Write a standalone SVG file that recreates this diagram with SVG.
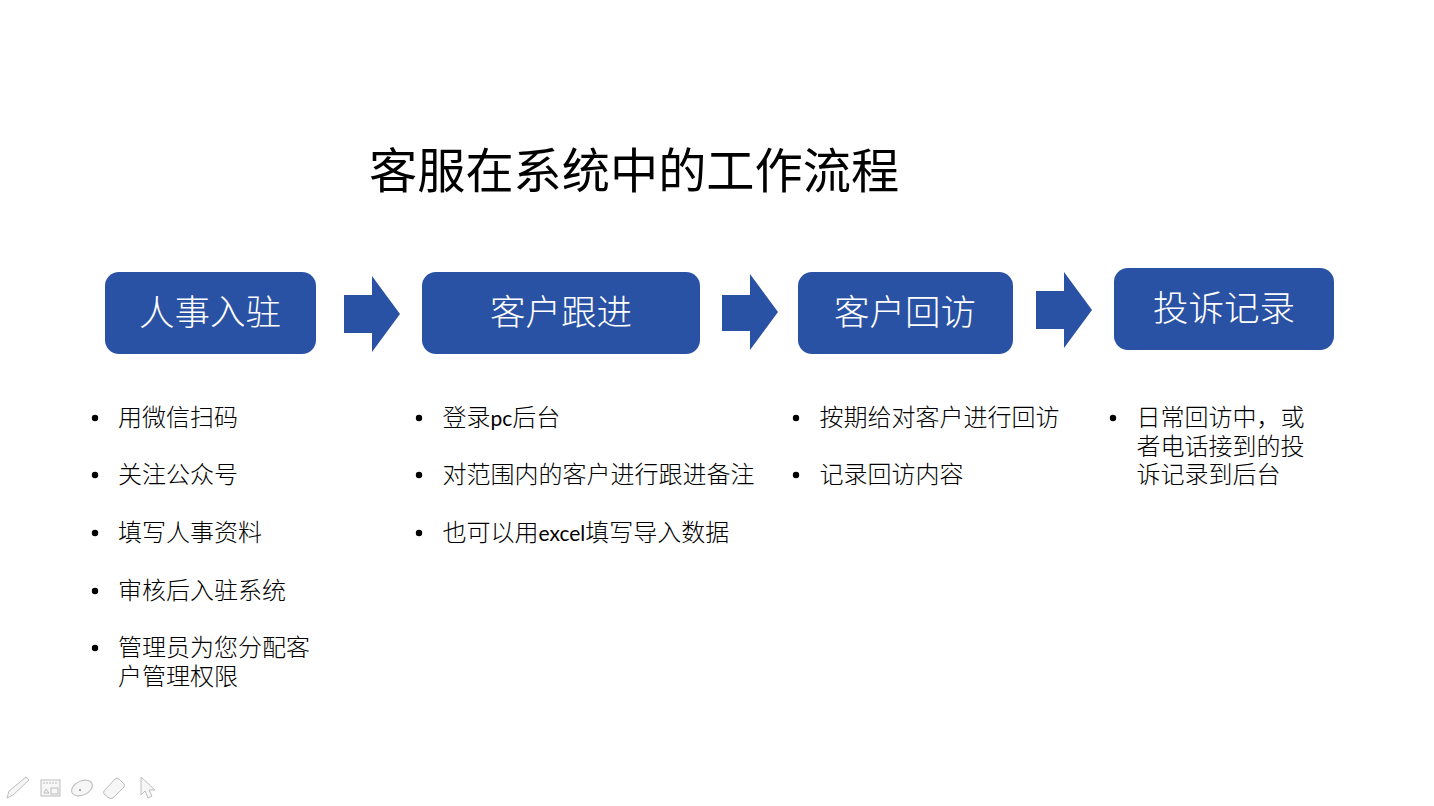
<svg xmlns="http://www.w3.org/2000/svg" width="1434" height="806" viewBox="0 0 1434 806">
<style>
.n{fill:#2a52a4}
.t{font-family:"Noto Sans CJK SC","Noto Sans",sans-serif;font-size:35.5px;font-weight:300;fill:#fff;text-anchor:middle}
.b{font-family:"Noto Sans CJK SC","Noto Sans",sans-serif;font-size:24px;font-weight:300;fill:#000}
.l{font-family:Lato,"Noto Sans",sans-serif;font-size:21px;font-weight:400}
.i{fill:#f6f6f6;stroke:#bdbdbd;stroke-width:1}
.d{fill:#000}
</style>
<rect width="1434" height="806" fill="#fff"/>
<text id="title" x="369" y="188" font-family="Noto Sans CJK SC,sans-serif" font-size="48.2" fill="#000">客服在系统中的工作流程</text>
<g id="node1"><rect class="n" x="105" y="272" width="211" height="82" rx="14"/><text class="t" x="210" y="325">人事入驻</text></g>
<g id="node2"><rect class="n" x="422" y="272" width="278" height="82" rx="14"/><text class="t" x="561" y="325">客户跟进</text></g>
<g id="node3"><rect class="n" x="798" y="272" width="215" height="82" rx="14"/><text class="t" x="905" y="325">客户回访</text></g>
<g id="node4"><rect class="n" x="1114" y="268" width="220" height="82" rx="14"/><text class="t" x="1224" y="321">投诉记录</text></g>
<g id="connectors">
<polygon class="n" points="344,295 372,295 372,276 400,314 372,352 372,333 344,333"/>
<polygon class="n" points="722,295 750,295 750,274 778,312 750,350 750,331 722,331"/>
<polygon class="n" points="1036,291 1064,291 1064,272 1092,310 1064,348 1064,329 1036,329"/>
</g>
<g id="list1" class="b">
<circle class="d" cx="95" cy="418" r="3.2"/><text x="118" y="426">用微信扫码</text>
<circle class="d" cx="95" cy="475" r="3.2"/><text x="118" y="483">关注公众号</text>
<circle class="d" cx="95" cy="533" r="3.2"/><text x="118" y="541">填写人事资料</text>
<circle class="d" cx="95" cy="591" r="3.2"/><text x="118" y="599">审核后入驻系统</text>
<circle class="d" cx="95" cy="648" r="3.2"/><text x="118" y="656">管理员为您分配客<tspan x="118" dy="29">户管理权限</tspan></text>
</g>
<g id="list2" class="b">
<circle class="d" cx="419" cy="418" r="3.2"/><text x="442.500" y="426">登录<tspan class="l">pc</tspan>后台</text>
<circle class="d" cx="419" cy="475" r="3.2"/><text x="442.500" y="483">对范围内的客户进行跟进备注</text>
<circle class="d" cx="419" cy="533" r="3.2"/><text x="442.500" y="541">也可以用<tspan class="l">excel</tspan>填写导入数据</text>
</g>
<g id="list3" class="b">
<circle class="d" cx="796" cy="418" r="3.2"/><text x="819.500" y="426">按期给对客户进行回访</text>
<circle class="d" cx="796" cy="475" r="3.2"/><text x="819.500" y="483">记录回访内容</text>
</g>
<g id="list4" class="b">
<circle class="d" cx="1113" cy="418" r="3.2"/><text x="1136.500" y="426">日常回访中，或<tspan x="1136.500" dy="28.500">者电话接到的投</tspan><tspan x="1136.500" dy="28.500">诉记录到后台</tspan></text>
</g>
<g id="toolbar">
<path class="i" d="M7 798l2-7 17-14 3 3-16 15z"/>
<rect class="i" x="41" y="780" width="19" height="16"/>
<path d="M43 783h15" fill="none" stroke="#bdbdbd" stroke-dasharray="2 1"/>
<rect class="i" x="51" y="788" width="7" height="6"/>
<path d="M44 793l2-4 3 4z" fill="none" stroke="#bdbdbd"/>
<ellipse class="i" cx="82" cy="788" rx="11" ry="7" transform="rotate(-25 82 788)"/>
<circle cx="80" cy="790" r="1" fill="#888"/>
<path class="i" d="M104 791l11-12q2-2 4-0l5 5q1 2 0 3l-11 11q-2 1-4 0l-5-4q-1-1 0-3z"/>
<path class="i" d="M141 777v18l4-4 3 7 4-2-3-6h6z"/>
</g>
</svg>
